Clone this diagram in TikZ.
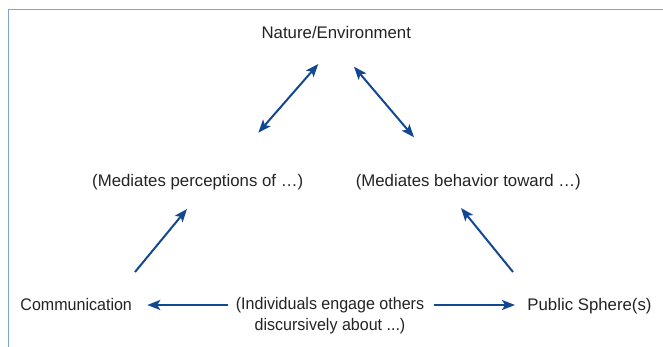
\documentclass[tikz,border=0pt]{standalone}
\usepackage{fontspec}
\setmainfont{Liberation Sans}
\newfontfamily\narrowsans[FakeStretch=0.955]{Liberation Sans}
\usetikzlibrary{arrows.meta}
\definecolor{arrowblue}{RGB}{18,72,145}
\definecolor{framebl}{RGB}{125,163,212}
\definecolor{txt}{RGB}{35,35,35}
\begin{document}
\begin{tikzpicture}[x=1pt,y=-1pt,
  lbl/.style={inner sep=0pt, anchor=base, text=txt, font=\fontsize{16.8}{21.5}\selectfont},
  nlbl/.style={lbl, font=\narrowsans\fontsize{16.8}{21.5}\selectfont},
  arr/.style={draw=arrowblue, line width=2pt, -{Stealth[length=13pt,width=10pt,inset=3pt]}},
  darr/.style={draw=arrowblue, line width=2pt, {Stealth[length=13pt,width=10pt,inset=3pt]}-{Stealth[length=13pt,width=10pt,inset=3pt]}}]
\useasboundingbox (0,0) rectangle (663,347);
\draw[framebl, line width=1.5pt] (8.5,347) -- (8.5,9.5) -- (663,9.5);

\node[lbl] (nature) at (336.3,39) {Nature/Environment};
\node[lbl] (persp) at (197.7,186.7) {(Mediates perceptions of …)};
\node[lbl] (behav) at (468.3,186.7) {(Mediates behavior toward …)};
\node[nlbl] (comm) at (76.2,310.7) {Communication};
\node[lbl] (pub) at (589.5,310.7) {Public Sphere(s)};
\node[nlbl, align=center] (indiv) at (330,330.8) {(Individuals engage others\\discursively about ...)};

\coordinate (a1s) at (258.3,132.7);
\coordinate (a1e) at (318.3,64);
\coordinate (a2s) at (414,137.3);
\coordinate (a2e) at (354,66.7);
\coordinate (b1s) at (135,272);
\coordinate (b1e) at (187,209);
\coordinate (b2s) at (513,272);
\coordinate (b2e) at (461,208);
\coordinate (c1s) at (227.5,305);
\coordinate (c1e) at (147.3,305);
\coordinate (c2s) at (434,305);
\coordinate (c2e) at (515,305);

\draw[darr] (a1s) -- (a1e);
\draw[darr] (a2s) -- (a2e);
\draw[arr] (b1s) -- (b1e);
\draw[arr] (b2s) -- (b2e);
\draw[arr] (c1s) -- (c1e);
\draw[arr] (c2s) -- (c2e);
\end{tikzpicture}
\end{document}
